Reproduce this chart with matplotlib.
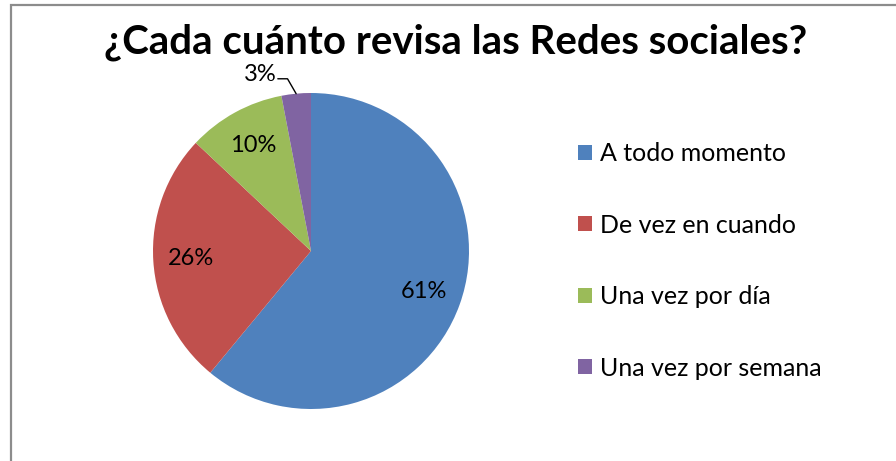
import matplotlib.pyplot as plt
from matplotlib.patches import Rectangle
import numpy as np

# Chart data
categories = ['A todo momento', 'De vez en cuando', 'Una vez por día', 'Una vez por semana']
shares = [61, 26, 10, 3]
colors = ['#4F81BD', '#C0504D', '#9BBB59', '#8064A2']

plt.rcParams['font.family'] = ['Lato', 'DejaVu Sans']

W, H = 896, 461
fig = plt.figure(figsize=(W / 100, H / 100), dpi=100)

# chart frame (right and bottom edges run off the picture)
fig.patches.append(Rectangle((10.5 / W, -0.1), 1.2, 1 - 5.5 / H + 0.1,
                             transform=fig.transFigure, fill=False,
                             edgecolor='#8c8c8c', linewidth=1.6))

# pie centred at (311, 251) px, radius 158 px
cx, cy, r = 311, 251, 158
ax = fig.add_axes([(cx - r) / W, (H - cy - r) / H, 2 * r / W, 2 * r / H])

wedges, texts, autotexts = ax.pie(
    shares, colors=colors, startangle=90, counterclock=False,
    autopct='%1.0f%%', pctdistance=0.76, radius=1,
    textprops={'fontsize': 17, 'color': 'black'})
ax.set_xlim(-1, 1)
ax.set_ylim(-1, 1)
ax.set_aspect('auto')

# the smallest slice gets its label outside with a leader line
autotexts[3].set_visible(False)
w = wedges[3]
mid = np.deg2rad((w.theta1 + w.theta2) / 2)
edge = (np.cos(mid), np.sin(mid))
ax.annotate('', xy=edge, xytext=(-0.21, 1.09),
            arrowprops=dict(arrowstyle='-', color='black', lw=1,
                            shrinkA=0, shrinkB=0,
                            connectionstyle='angle,angleA=0,angleB=120,rad=0'),
            annotation_clip=False)
ax.text(-0.215, 1.12, autotexts[3].get_text(), ha='right', va='center',
        fontsize=17)

fig.text(456 / W, 1 - 42 / H, '¿Cada cuánto revisa las Redes sociales?',
         ha='center', va='center', fontsize=29, fontweight='bold')

leg = fig.legend(wedges, categories, loc='upper left',
                 bbox_to_anchor=(578 / W, 1 - 142 / H), frameon=False,
                 fontsize=18, handlelength=0.56, handleheight=0.56,
                 handletextpad=0.32, labelspacing=1.94, borderpad=0,
                 borderaxespad=0)

fig.savefig('out.png', dpi=100)
